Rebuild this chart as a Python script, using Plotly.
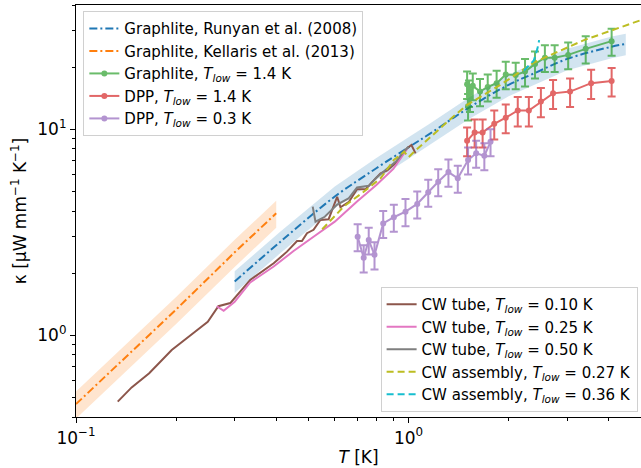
import plotly.graph_objects as go

# ---------------- data ----------------
# Graphlite, Runyan et al. (2008) model curve
run_T = [0.30, 0.412, 0.60, 0.80, 1.00, 1.16, 1.52, 2.00, 2.38, 3.00, 4.08, 4.50]
run_K = [1.82, 2.84, 4.70, 6.45, 8.15, 9.5, 12.7, 16.4, 18.6, 21.9, 25.1, 25.9]
run_band = 0.12

# Graphlite, Kellaris et al. (2013) model line
kel_T = [0.10, 0.20, 0.30, 0.40]
kel_K = [0.462, 1.33, 2.52, 3.90]
kel_band = 0.15

# Graphlite, T_low = 1.4 K
g_T = [1.50, 1.51, 1.52, 1.53, 1.56, 1.64, 1.73, 1.84, 1.96, 2.10, 2.24, 2.40, 2.57, 2.75, 3.02, 3.41, 4.08]
g_K = [16.5, 12.9, 15.0, 14.2, 16.2, 15.2, 16.0, 16.7, 18.4, 18.3, 19.0, 20.7, 22.2, 22.2, 22.9, 24.5, 26.7]
g_E = [2.5, 1.9, 2.2, 2.1, 2.4, 2.3, 2.4, 2.5, 2.8, 2.7, 2.9, 3.1, 3.3, 3.3, 3.4, 3.7, 4.0]

# DPP, T_low = 1.4 K
r_T = [1.50, 1.58, 1.67, 1.81, 1.96, 2.13, 2.30, 2.50, 2.72, 3.06, 3.54, 4.08]
r_K = [8.77, 9.63, 9.63, 10.6, 11.35, 12.3, 12.3, 13.6, 14.9, 15.2, 16.7, 17.1]
r_E = [1.4, 1.5, 1.5, 1.7, 1.8, 2.0, 2.0, 2.2, 2.4, 2.4, 2.7, 2.7]

# DPP, T_low = 0.3 K
p_T = [0.703, 0.733, 0.759, 0.790, 0.839, 0.903, 0.979, 1.062, 1.146, 1.228, 1.318, 1.406, 1.51, 1.597, 1.69, 1.764]
p_K = [3.0, 2.37, 2.89, 2.45, 3.48, 3.73, 3.97, 4.33, 4.93, 5.55, 6.18, 5.77, 7.07, 7.62, 7.42, 8.67]
p_E = [0.45, 0.36, 0.43, 0.37, 0.52, 0.56, 0.60, 0.65, 0.74, 0.83, 0.93, 0.87, 1.06, 1.14, 1.11, 1.30]

# CW tube, T_low = 0.10 K
b_T = [0.1335, 0.147, 0.166, 0.194, 0.228, 0.249, 0.268, 0.291, 0.334, 0.393, 0.431, 0.462, 0.478,
       0.495, 0.518, 0.543, 0.575, 0.610, 0.624, 0.662, 0.700, 0.743, 0.787, 0.824, 0.863, 0.913,
       0.956, 0.990, 1.020, 1.050]
b_K = [0.475, 0.557, 0.652, 0.846, 1.038, 1.16, 1.38, 1.43, 1.85, 2.23, 2.54, 2.86, 2.86,
       3.12, 3.24, 3.62, 3.65, 4.69, 4.17, 4.43, 5.10, 5.10, 5.65, 6.10, 6.30, 6.82,
       7.56, 8.06, 8.36, 7.62]

# CW tube, T_low = 0.25 K
k_T = [0.265, 0.278, 0.300, 0.334, 0.393, 0.450, 0.518, 0.600, 0.700, 0.800, 0.900, 0.990]
k_K = [1.38, 1.31, 1.45, 1.80, 2.15, 2.55, 3.00, 3.55, 4.45, 5.35, 6.40, 8.00]

# CW tube, T_low = 0.50 K
gr_T = [0.515, 0.525, 0.560, 0.610, 0.660, 0.700, 0.760, 0.800, 0.860, 0.920, 0.970, 1.000]
gr_K = [4.20, 3.55, 3.75, 4.30, 4.60, 5.20, 5.30, 5.80, 6.40, 7.00, 7.80, 8.20]

# CW assembly, T_low = 0.27 K
o_T = [0.55, 0.638, 0.733, 0.824, 0.903, 0.970, 1.00, 1.04, 1.33, 1.50, 1.89, 2.38, 2.74, 3.37, 5.0]
o_K = [3.26, 4.20, 4.96, 5.76, 7.07, 7.76, 7.3, 7.76, 11.1, 13.1, 16.4, 21.0, 23.3, 27.0, 33.8]

# CW assembly, T_low = 0.36 K
c_T = [2.22, 2.30, 2.38, 2.44, 2.47]
c_K = [19.2, 20.3, 21.5, 24.5, 27.0]

# ---------------- figure ----------------
C = ["#1f77b4", "#ff7f0e", "#2ca02c", "#d62728", "#9467bd",
     "#8c564b", "#e377c2", "#7f7f7f", "#bcbd22", "#17becf"]
FONT = "DejaVu Sans"
TL = "<i>T</i><sub><i>low</i></sub>"

fig = go.Figure()


def band(T, K, frac, color):
    up = [k * (1 + frac) for k in K]
    lo = [k * (1 - frac) for k in K]
    fig.add_trace(go.Scatter(x=T + T[::-1], y=up + lo[::-1], fill="toself",
                             fillcolor=color, line=dict(width=0), mode="lines",
                             showlegend=False, hoverinfo="skip"))


band(run_T, run_K, run_band, "rgba(31,119,180,0.2)")
band(kel_T, kel_K, kel_band, "rgba(255,127,14,0.2)")

fig.add_trace(go.Scatter(x=run_T, y=run_K, mode="lines", name="Graphlite, Runyan et al. (2008)",
                         line=dict(color=C[0], width=2, dash="8px,3px,2px,3px", shape="spline"),
                         legend="legend"))
fig.add_trace(go.Scatter(x=kel_T, y=kel_K, mode="lines", name="Graphlite, Kellaris et al. (2013)",
                         line=dict(color=C[1], width=2, dash="8px,3px,2px,3px"),
                         legend="legend"))


def errtrace(T, K, E, color, name):
    fig.add_trace(go.Scatter(x=T, y=K, mode="lines+markers", name=name, opacity=0.7,
                             line=dict(color=color, width=2),
                             marker=dict(color=color, size=6),
                             error_y=dict(type="data", array=E, color=color, thickness=2, width=4),
                             legend="legend"))


errtrace(g_T, g_K, g_E, C[2], "Graphlite, " + TL + " = 1.4 K")
errtrace(r_T, r_K, r_E, C[3], "DPP, " + TL + " = 1.4 K")
errtrace(p_T, p_K, p_E, C[4], "DPP, " + TL + " = 0.3 K")

fig.add_trace(go.Scatter(x=b_T, y=b_K, mode="lines", name="CW tube, " + TL + " = 0.10 K",
                         line=dict(color=C[5], width=2), legend="legend2"))
fig.add_trace(go.Scatter(x=k_T, y=k_K, mode="lines", name="CW tube, " + TL + " = 0.25 K",
                         line=dict(color=C[6], width=2), legend="legend2"))
fig.add_trace(go.Scatter(x=gr_T, y=gr_K, mode="lines", name="CW tube, " + TL + " = 0.50 K",
                         line=dict(color=C[7], width=2), legend="legend2"))
fig.add_trace(go.Scatter(x=o_T, y=o_K, mode="lines", name="CW assembly, " + TL + " = 0.27 K",
                         line=dict(color=C[8], width=2, dash="7px,4px"), legend="legend2"))
fig.add_trace(go.Scatter(x=c_T, y=c_K, mode="lines", name="CW assembly, " + TL + " = 0.36 K",
                         line=dict(color=C[9], width=2, dash="7px,4px"), legend="legend2"))

axis_common = dict(type="log", showline=True, linecolor="black", linewidth=1.2, mirror=True,
                   showgrid=False, zeroline=False, ticks="outside", ticklen=5, tickwidth=1.2,
                   tickcolor="black", tickfont=dict(family=FONT, size=17, color="black"))

x_minor = [v * m for v in (0.1, 1.0) for m in range(2, 10)]
y_minor = [v * m for v in (0.1, 1.0, 10.0) for m in range(2, 10)]

fig.update_xaxes(**axis_common, range=[-1, 0.69897],
                 tickmode="array", tickvals=[0.1, 1.0],
                 ticktext=["10<sup>\u22121</sup>", "10<sup>0</sup>"],
                 minor=dict(tickmode="array", tickvals=x_minor, ticks="outside", ticklen=3,
                            tickwidth=1, tickcolor="black"),
                 title=dict(text="<i>T</i> [K]", font=dict(family=FONT, size=17, color="black"),
                            standoff=4))
fig.update_yaxes(**axis_common, range=[-0.39794, 1.60206],
                 tickmode="array", tickvals=[1.0, 10.0],
                 ticktext=["10<sup>0</sup>", "10<sup>1</sup>"],
                 minor=dict(tickmode="array", tickvals=y_minor, ticks="outside", ticklen=3,
                            tickwidth=1, tickcolor="black"),
                 title=dict(text="\u03ba [\u03bcW mm<sup>\u22121</sup> K<sup>\u22121</sup>]",
                            font=dict(family=FONT, size=17, color="black"), standoff=6))

leg_common = dict(font=dict(family=FONT, size=15, color="black"),
                  bgcolor="rgba(255,255,255,0.8)", bordercolor="#d0d0d0", borderwidth=1,
                  xref="paper", yref="paper", itemwidth=30)

fig.update_layout(
    width=641, height=468,
    margin=dict(l=76, r=0, t=5, b=51),
    paper_bgcolor="white", plot_bgcolor="white",
    font=dict(family=FONT, color="black"),
    legend=dict(**leg_common, x=0.013, y=0.985, xanchor="left", yanchor="top"),
    legend2=dict(**leg_common, x=0.994, y=0.012, xanchor="right", yanchor="bottom"),
)

fig.write_html("out.html")
